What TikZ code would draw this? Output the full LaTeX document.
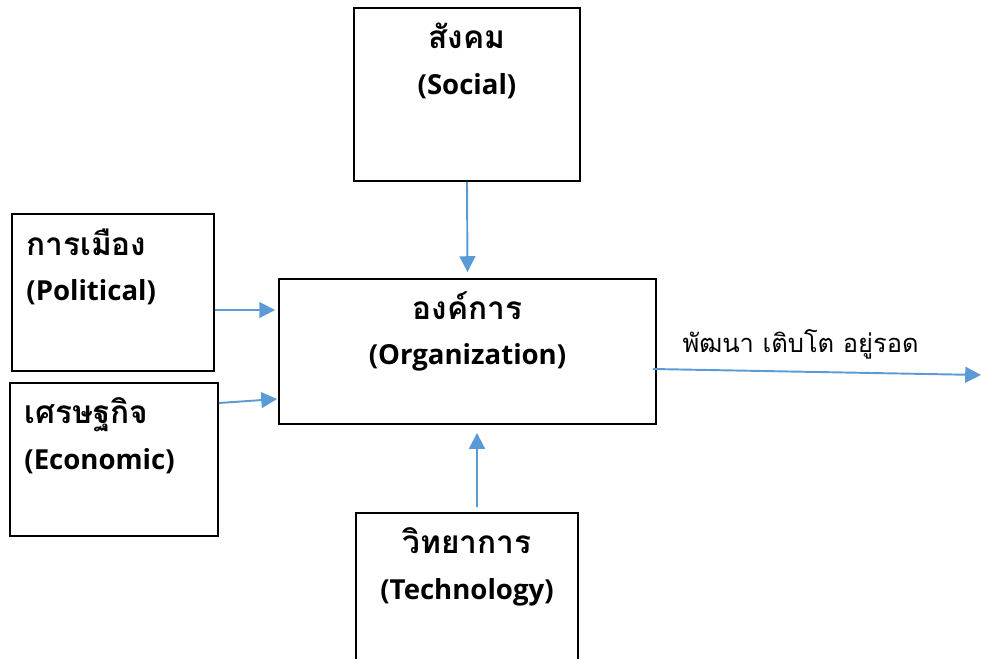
\documentclass[tikz,border=0pt]{standalone}
\usepackage{fontspec}
\setmainfont{Open Sans}
\newfontfamily\thaifont[Script=Thai]{Loma}
\newcommand{\thaitext}[1]{{\thaifont\fontsize{18}{26}\selectfont #1}}
\usepackage{tikz}
\usetikzlibrary{arrows.meta}
\usetikzlibrary{positioning}
\definecolor{linkblue}{HTML}{5B9BD5}
\tikzset{
	factor box/.style={rectangle,draw,line width=1.1pt,inner sep=0pt},
	factor text/.style={font=\bfseries\fontsize{15.7}{26}\selectfont,inner sep=0pt},
	link/.style={-{Triangle[length=9pt,width=9pt]},draw=linkblue,fill=linkblue,line width=1.1pt}
}

\begin{document}
\begin{tikzpicture}[x=0.02cm,y=-0.02cm]
	\useasboundingbox (0,0) rectangle (981,659);
	% boxes
	\node [factor box,minimum width=4.52cm,minimum height=3.46cm] (soc) at (467,94.5) {};
	\node [factor box,minimum width=4.04cm,minimum height=3.14cm] (pol) at (113,292.5) {};
	\node [factor box,minimum width=4.16cm,minimum height=3.06cm] (eco) at (114,459.5) {};
	\node [factor box,minimum width=7.54cm,minimum height=2.90cm] (org) at (467.5,351.5) {};
	\node [factor box,minimum width=4.44cm,minimum height=3.34cm] (tech) at (467,596.5) {};
	% texts
	\node [factor text,align=center,anchor=north] (soct) at ([yshift=-0.32cm]soc.north)
		{\thaitext{สังคม}\\(Social)};
	\node [factor text,align=left,anchor=north west] (polt) at ([xshift=0.3cm,yshift=-0.3cm]pol.north west)
		{\thaitext{การเมือง}\\(Political)};
	\node [factor text,align=left,anchor=north west] (ecot) at ([xshift=0.3cm,yshift=-0.3cm]eco.north west)
		{\thaitext{เศรษฐกิจ}\\(Economic)};
	\node [factor text,align=center,anchor=north] (orgt) at ([yshift=-0.26cm]org.north)
		{\thaitext{องค์การ}\\(Organization)};
	\node [factor text,align=center,anchor=north] (techt) at ([yshift=-0.3cm]tech.north)
		{\thaitext{วิทยาการ}\\(Technology)};
	% arrows
	\coordinate (out) at (981,375);
	\draw [link] (soc.south) -- ([yshift=0.12cm]org.north);
	\draw [link] ([yshift=-0.35cm]pol.east) -- ([xshift=-0.06cm,yshift=0.83cm]org.west);
	\draw [link] ([yshift=1.13cm]eco.east) -- ([xshift=-0.02cm,yshift=-0.95cm]org.west);
	\draw [link] ([xshift=0.2cm,yshift=0.1cm]tech.north) -- ([xshift=0.19cm,yshift=-0.16cm]org.south);
	\draw [link] ([xshift=-0.08cm,yshift=-0.35cm]org.east) -- node [above,pos=0.45,yshift=0.12cm,font=\thaifont\fontsize{14.5}{18}\selectfont] (grow) {พัฒนา เติบโต อยู่รอด} (out);
\end{tikzpicture}
\end{document}
